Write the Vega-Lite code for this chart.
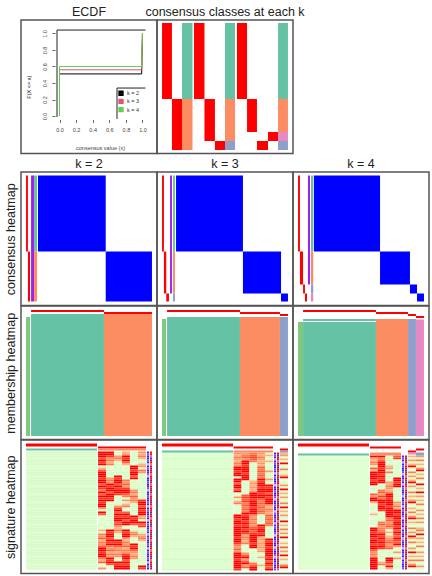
{"$schema":"https://vega.github.io/schema/vega-lite/v6.json","padding":{"left":3,"top":5,"right":0,"bottom":0},"bounds":"flush","spacing":0,"columns":3,"align":"each","config":{"font":"Liberation Sans","view":{"stroke":"#555555","strokeWidth":1.5},"title":{"fontSize":12.5,"fontWeight":"normal","color":"#222222","offset":1.5}},
"datasets":{
"none":[],
"ecdf":[{"k":"k = 2","i":1,"x":0,"y":0},{"k":"k = 2","i":2,"x":0,"y":0.51},{"k":"k = 2","i":3,"x":0.99,"y":0.51},{"k":"k = 2","i":4,"x":1,"y":1},{"k":"k = 3","i":1,"x":0,"y":0},{"k":"k = 3","i":2,"x":0,"y":0.56},{"k":"k = 3","i":3,"x":0.99,"y":0.56},{"k":"k = 3","i":4,"x":1,"y":1},{"k":"k = 4","i":1,"x":0,"y":0},{"k":"k = 4","i":2,"x":0,"y":0.6},{"k":"k = 4","i":3,"x":0.99,"y":0.6},{"k":"k = 4","i":4,"x":1,"y":1}],
"box":[{"x":-0.03,"y":-0.012,"xe":-0.03,"ye":1.042},{"x":-0.03,"y":1.042,"xe":1.036,"ye":1.042},{"x":0.693,"y":-0.036,"xe":0.693,"ye":0.339},{"x":0.693,"y":0.339,"xe":1.036,"ye":0.339}],
"blocks":[
{"panel":"classes","x0":3.7,"x1":11,"from":0,"to":76,"cat":"member"},{"panel":"classes","x0":11,"x1":18.4,"from":76,"to":127,"cat":"member"},{"panel":"classes","x0":18.4,"x1":26.1,"from":0,"to":76,"cat":"group 1"},{"panel":"classes","x0":18.4,"x1":26.1,"from":76,"to":127,"cat":"group 2"},
{"panel":"classes","x0":27.2,"x1":34.9,"from":0,"to":76,"cat":"member"},{"panel":"classes","x0":34.9,"x1":42.6,"from":76,"to":118,"cat":"member"},{"panel":"classes","x0":42.6,"x1":50,"from":118,"to":127,"cat":"member"},{"panel":"classes","x0":50,"x1":57.4,"from":0,"to":76,"cat":"group 1"},{"panel":"classes","x0":50,"x1":57.4,"from":76,"to":118,"cat":"group 2"},{"panel":"classes","x0":50,"x1":57.4,"from":118,"to":127,"cat":"group 3"},
{"panel":"classes","x0":58.8,"x1":66.2,"from":0,"to":76,"cat":"member"},{"panel":"classes","x0":66.2,"x1":73.5,"from":76,"to":109,"cat":"member"},{"panel":"classes","x0":73.5,"x1":81.6,"from":118,"to":127,"cat":"member"},{"panel":"classes","x0":81.6,"x1":89,"from":109,"to":118,"cat":"member"},{"panel":"classes","x0":89,"x1":96.3,"from":0,"to":76,"cat":"group 1"},{"panel":"classes","x0":89,"x1":96.3,"from":76,"to":109,"cat":"group 2"},{"panel":"classes","x0":89,"x1":96.3,"from":109,"to":118,"cat":"group 4"},{"panel":"classes","x0":89,"x1":96.3,"from":118,"to":127,"cat":"group 3"},
{"panel":"c2","x0":3.7,"x1":5.1,"from":0,"to":76,"cat":"member"},{"panel":"c2","x0":5.1,"x1":6.6,"from":76,"to":126,"cat":"member"},{"panel":"c2","x0":7.4,"x1":9.6,"from":0,"to":126,"cat":"silhouette"},{"panel":"c2","x0":9.6,"x1":11.8,"from":0,"to":76,"cat":"group 1"},{"panel":"c2","x0":9.6,"x1":11.8,"from":76,"to":126,"cat":"group 2"},{"panel":"c2","x0":12.5,"x1":62.3,"from":0,"to":76,"cat":"consensus"},{"panel":"c2","x0":62.3,"x1":96.3,"from":76,"to":126,"cat":"consensus"},
{"panel":"c3","x0":3.7,"x1":5.1,"from":0,"to":76,"cat":"member"},{"panel":"c3","x0":5.1,"x1":6.8,"from":76,"to":118,"cat":"member"},{"panel":"c3","x0":6.8,"x1":8.8,"from":118,"to":126,"cat":"member"},{"panel":"c3","x0":9.6,"x1":11,"from":0,"to":118,"cat":"silhouette"},{"panel":"c3","x0":11.8,"x1":13.2,"from":0,"to":76,"cat":"group 1"},{"panel":"c3","x0":11.8,"x1":13.2,"from":76,"to":118,"cat":"group 2"},{"panel":"c3","x0":11.8,"x1":13.2,"from":118,"to":126,"cat":"group 3"},{"panel":"c3","x0":14,"x1":63.2,"from":0,"to":76,"cat":"consensus"},{"panel":"c3","x0":63.2,"x1":91.2,"from":76,"to":118,"cat":"consensus"},{"panel":"c3","x0":91.2,"x1":96.3,"from":118,"to":126,"cat":"consensus"},
{"panel":"c4","x0":3.7,"x1":5.1,"from":0,"to":76,"cat":"member"},{"panel":"c4","x0":5.1,"x1":7.4,"from":76,"to":109,"cat":"member"},{"panel":"c4","x0":7.4,"x1":8.8,"from":109,"to":118,"cat":"member"},{"panel":"c4","x0":8.8,"x1":10.3,"from":118,"to":126,"cat":"member"},{"panel":"c4","x0":11,"x1":12.5,"from":0,"to":109,"cat":"silhouette"},{"panel":"c4","x0":13.2,"x1":14.9,"from":0,"to":76,"cat":"group 1"},{"panel":"c4","x0":13.2,"x1":14.9,"from":76,"to":109,"cat":"group 2"},{"panel":"c4","x0":13.2,"x1":14.9,"from":109,"to":118,"cat":"group 3"},{"panel":"c4","x0":13.2,"x1":14.9,"from":118,"to":126,"cat":"group 4"},{"panel":"c4","x0":15.4,"x1":64,"from":0,"to":76,"cat":"consensus"},{"panel":"c4","x0":64,"x1":86,"from":76,"to":109,"cat":"consensus"},{"panel":"c4","x0":86,"x1":91.2,"from":109,"to":118,"cat":"consensus"},{"panel":"c4","x0":91.2,"x1":96.3,"from":118,"to":126,"cat":"consensus"},
{"panel":"m2","x0":3.7,"x1":6.6,"from":7.5,"to":126.5,"cat":"score"},{"panel":"m2","x0":7.4,"x1":61,"from":0.5,"to":2.5,"cat":"member"},{"panel":"m2","x0":61,"x1":96.3,"from":2.5,"to":4.5,"cat":"member"},{"panel":"m2","x0":7.4,"x1":61,"from":4.5,"to":126.5,"cat":"group 1"},{"panel":"m2","x0":61,"x1":96.3,"from":4.5,"to":126.5,"cat":"group 2"},
{"panel":"m3","x0":3.7,"x1":6.6,"from":9.5,"to":126.5,"cat":"score"},{"panel":"m3","x0":7.4,"x1":61,"from":0.5,"to":2.5,"cat":"member"},{"panel":"m3","x0":61,"x1":90.4,"from":2.5,"to":4.5,"cat":"member"},{"panel":"m3","x0":90.4,"x1":96.3,"from":4.5,"to":6.5,"cat":"member"},{"panel":"m3","x0":7.4,"x1":61,"from":7.5,"to":126.5,"cat":"group 1"},{"panel":"m3","x0":61,"x1":90.4,"from":7.5,"to":126.5,"cat":"group 2"},{"panel":"m3","x0":90.4,"x1":96.3,"from":7.5,"to":126.5,"cat":"group 3"},
{"panel":"m4","x0":3.7,"x1":7.4,"from":12.5,"to":126.5,"cat":"score"},{"panel":"m4","x0":7.4,"x1":61,"from":0.5,"to":2.5,"cat":"member"},{"panel":"m4","x0":61,"x1":84.6,"from":2.5,"to":4.5,"cat":"member"},{"panel":"m4","x0":84.6,"x1":90.4,"from":4.5,"to":6.5,"cat":"member"},{"panel":"m4","x0":90.4,"x1":96.3,"from":6.5,"to":8.5,"cat":"member"},{"panel":"m4","x0":7.4,"x1":61,"from":9.5,"to":11.5,"cat":"group 1"},{"panel":"m4","x0":7.4,"x1":61,"from":12.5,"to":126.5,"cat":"group 1"},{"panel":"m4","x0":61,"x1":84.6,"from":9.5,"to":126.5,"cat":"group 2"},{"panel":"m4","x0":84.6,"x1":90.4,"from":9.5,"to":126.5,"cat":"group 3"},{"panel":"m4","x0":90.4,"x1":96.3,"from":10,"to":126.5,"cat":"group 4"}],
"sigHead":[
{"panel":"s2","x0":3.7,"x1":55.9,"r":5.5,"r2":7,"cat":"member"},{"panel":"s2","x0":56.6,"x1":91.9,"r":7,"r2":8,"cat":"member"},{"panel":"s2","x0":3.7,"x1":55.9,"r":8,"r2":9,"cat":"group 1"},{"panel":"s2","x0":56.6,"x1":91.9,"r":8,"r2":9,"cat":"group 2"},
{"panel":"s3","x0":3.7,"x1":55.9,"r":5,"r2":6.5,"cat":"member"},{"panel":"s3","x0":56.3,"x1":85.3,"r":6.5,"r2":7.5,"cat":"member"},{"panel":"s3","x0":90.4,"x1":96.3,"r":7.5,"r2":8.5,"cat":"member"},{"panel":"s3","x0":3.7,"x1":55.9,"r":8.5,"r2":9.5,"cat":"group 1"},{"panel":"s3","x0":56.3,"x1":85.3,"r":8.5,"r2":9.5,"cat":"group 2"},{"panel":"s3","x0":90.4,"x1":96.3,"r":8.5,"r2":9.5,"cat":"group 3"},
{"panel":"s4","x0":3.7,"x1":55.9,"r":3.5,"r2":5,"cat":"member"},{"panel":"s4","x0":56.6,"x1":79.4,"r":5,"r2":6,"cat":"member"},{"panel":"s4","x0":90.4,"x1":96.3,"r":6,"r2":7,"cat":"member"},{"panel":"s4","x0":84.6,"x1":90.4,"r":7,"r2":8,"cat":"member"},{"panel":"s4","x0":3.7,"x1":55.9,"r":8.5,"r2":9.5,"cat":"group 1"},{"panel":"s4","x0":56.6,"x1":79.4,"r":8,"r2":9.5,"cat":"group 2"},{"panel":"s4","x0":84.6,"x1":90.4,"r":8,"r2":9,"cat":"group 4"},{"panel":"s4","x0":90.4,"x1":96.3,"r":8,"r2":9.5,"cat":"group 3"}],
"cols2":[{"key":"g","x0":3.7,"x1":55.9},{"key":"a","x0":56.6,"x1":62.5},{"key":"b","x0":62.5,"x1":68.4},{"key":"c","x0":68.4,"x1":74.3},{"key":"d","x0":74.3,"x1":80.1},{"key":"e","x0":80.1,"x1":86},{"key":"f","x0":86,"x1":91.9},{"key":"p","x0":92.6,"x1":94.1},{"key":"q","x0":94.9,"x1":96.3}],
"cols3":[{"key":"g","x0":3.7,"x1":55.9},{"key":"a","x0":56.3,"x1":62.1},{"key":"b","x0":62.1,"x1":67.9},{"key":"c","x0":67.9,"x1":73.7},{"key":"d","x0":73.7,"x1":79.5},{"key":"e","x0":79.5,"x1":85.3},{"key":"p","x0":86,"x1":87.5},{"key":"q","x0":88.2,"x1":89.7},{"key":"i","x0":90.4,"x1":96.3}],
"cols4":[{"key":"g","x0":3.7,"x1":55.9},{"key":"a","x0":56.6,"x1":62.3},{"key":"b","x0":62.3,"x1":68},{"key":"c","x0":68,"x1":73.7},{"key":"d","x0":73.7,"x1":79.4},{"key":"p","x0":80.1,"x1":81.6},{"key":"q","x0":82.4,"x1":83.8},{"key":"i","x0":84.6,"x1":90.4},{"key":"j","x0":90.4,"x1":96.3}],
"sig2":[
{"r":10,"g":0,"a":9,"b":9,"c":0,"d":4,"e":0,"f":5,"p":"deep","q":"high"},{"r":11,"g":0,"a":9,"b":9,"c":1,"d":5,"e":1,"f":4,"p":"mid","q":"high"},{"r":12,"g":0,"a":9,"b":8,"c":5,"d":9,"e":0,"f":6,"p":"deep","q":"mix"},{"r":13,"g":1,"a":7,"b":5,"c":6,"d":8,"e":2,"f":4,"p":"deep","q":"low"},{"r":14,"g":0,"a":9,"b":6,"c":4,"d":9,"e":0,"f":1,"p":"mid","q":"high"},{"r":15,"g":0,"a":8,"b":4,"c":1,"d":7,"e":1,"f":0,"p":"deep","q":"high"},{"r":16,"g":0,"a":9,"b":6,"c":0,"d":4,"e":2,"f":4,"p":"pale","q":"mix"},{"r":17,"g":1,"a":2,"b":2,"c":2,"d":3,"e":9,"f":5,"p":"deep","q":"high"},{"r":18,"g":1,"a":4,"b":3,"c":0,"d":2,"e":9,"f":3,"p":"mid","q":"low"},{"r":19,"g":0,"a":7,"b":0,"c":1,"d":1,"e":8,"f":6,"p":"deep","q":"high"},
{"r":20,"g":0,"a":9,"b":1,"c":0,"d":0,"e":9,"f":5,"p":"deep","q":"high"},{"r":21,"g":0,"a":9,"b":0,"c":2,"d":2,"e":9,"f":0,"p":"mid","q":"mix"},{"r":22,"g":1,"a":9,"b":2,"c":9,"d":0,"e":7,"f":1,"p":"pale","q":"high"},{"r":23,"g":0,"a":8,"b":5,"c":8,"d":1,"e":9,"f":0,"p":"deep","q":"high"},{"r":24,"g":0,"a":9,"b":6,"c":9,"d":6,"e":1,"f":2,"p":"deep","q":"low"},{"r":25,"g":0,"a":9,"b":5,"c":9,"d":5,"e":0,"f":1,"p":"mid","q":"high"},{"r":26,"g":0,"a":7,"b":9,"c":7,"d":7,"e":2,"f":0,"p":"deep","q":"mix"},{"r":27,"g":1,"a":9,"b":8,"c":9,"d":5,"e":1,"f":2,"p":"deep","q":"high"},{"r":28,"g":0,"a":8,"b":9,"c":8,"d":8,"e":0,"f":0,"p":"mid","q":"high"},{"r":29,"g":0,"a":6,"b":9,"c":9,"d":9,"e":5,"f":1,"p":"pale","q":"low"},
{"r":30,"g":0,"a":9,"b":7,"c":9,"d":9,"e":6,"f":0,"p":"deep","q":"high"},{"r":31,"g":1,"a":7,"b":9,"c":8,"d":7,"e":4,"f":2,"p":"deep","q":"mix"},{"r":32,"g":0,"a":9,"b":9,"c":1,"d":6,"e":7,"f":1,"p":"mid","q":"high"},{"r":33,"g":0,"a":8,"b":8,"c":0,"d":2,"e":5,"f":0,"p":"deep","q":"high"},{"r":34,"g":0,"a":9,"b":9,"c":2,"d":5,"e":6,"f":8,"p":"deep","q":"low"},{"r":35,"g":1,"a":8,"b":1,"c":1,"d":3,"e":4,"f":9,"p":"mid","q":"high"},{"r":36,"g":0,"a":9,"b":0,"c":0,"d":4,"e":1,"f":9,"p":"deep","q":"high"},{"r":37,"g":0,"a":9,"b":2,"c":5,"d":6,"e":0,"f":7,"p":"pale","q":"mix"},{"r":38,"g":1,"a":5,"b":1,"c":8,"d":2,"e":2,"f":9,"p":"deep","q":"high"},{"r":39,"g":0,"a":2,"b":0,"c":9,"d":3,"e":0,"f":8,"p":"mid","q":"high"},
{"r":40,"g":0,"a":9,"b":3,"c":7,"d":7,"e":1,"f":9,"p":"deep","q":"low"},{"r":41,"g":0,"a":7,"b":1,"c":9,"d":9,"e":2,"f":9,"p":"deep","q":"high"},{"r":42,"g":1,"a":2,"b":0,"c":8,"d":8,"e":9,"f":4,"p":"mid","q":"high"},{"r":43,"g":0,"a":1,"b":2,"c":9,"d":9,"e":8,"f":5,"p":"deep","q":"mix"},{"r":44,"g":0,"a":3,"b":0,"c":9,"d":7,"e":9,"f":3,"p":"pale","q":"high"},{"r":45,"g":0,"a":2,"b":1,"c":7,"d":9,"e":9,"f":9,"p":"deep","q":"high"},{"r":46,"g":1,"a":0,"b":3,"c":8,"d":9,"e":7,"f":7,"p":"mid","q":"low"},{"r":47,"g":0,"a":1,"b":0,"c":5,"d":1,"e":2,"f":8,"p":"deep","q":"high"},{"r":48,"g":0,"a":2,"b":2,"c":4,"d":2,"e":1,"f":2,"p":"deep","q":"mix"},{"r":49,"g":0,"a":4,"b":9,"c":6,"d":9,"e":0,"f":1,"p":"mid","q":"high"},
{"r":50,"g":1,"a":1,"b":8,"c":4,"d":8,"e":5,"f":0,"p":"deep","q":"high"},{"r":51,"g":0,"a":6,"b":9,"c":1,"d":9,"e":6,"f":4,"p":"pale","q":"low"},{"r":52,"g":0,"a":5,"b":9,"c":0,"d":9,"e":4,"f":5,"p":"deep","q":"high"},{"r":53,"g":0,"a":7,"b":7,"c":2,"d":5,"e":2,"f":6,"p":"mid","q":"high"},{"r":54,"g":1,"a":4,"b":9,"c":9,"d":4,"e":1,"f":4,"p":"deep","q":"mix"},{"r":55,"g":0,"a":6,"b":8,"c":8,"d":6,"e":3,"f":3,"p":"deep","q":"high"},{"r":56,"g":0,"a":5,"b":9,"c":9,"d":5,"e":9,"f":1,"p":"mid","q":"low"},{"r":57,"g":0,"a":7,"b":6,"c":7,"d":7,"e":8,"f":0,"p":"deep","q":"high"},{"r":58,"g":1,"a":9,"b":5,"c":5,"d":4,"e":9,"f":2,"p":"pale","q":"high"},{"r":59,"g":0,"a":9,"b":7,"c":6,"d":6,"e":7,"f":0,"p":"deep","q":"mix"},
{"r":60,"g":0,"a":8,"b":4,"c":4,"d":5,"e":5,"f":1,"p":"mid","q":"high"},{"r":61,"g":0,"a":9,"b":6,"c":6,"d":8,"e":4,"f":0,"p":"deep","q":"high"},{"r":62,"g":1,"a":9,"b":5,"c":5,"d":9,"e":6,"f":2,"p":"deep","q":"low"},{"r":63,"g":0,"a":6,"b":9,"c":2,"d":9,"e":5,"f":1,"p":"mid","q":"high"},{"r":64,"g":0,"a":4,"b":8,"c":1,"d":7,"e":1,"f":0,"p":"deep","q":"mix"},{"r":65,"g":0,"a":7,"b":9,"c":9,"d":9,"e":0,"f":1,"p":"pale","q":"high"},{"r":66,"g":1,"a":3,"b":7,"c":8,"d":8,"e":2,"f":2,"p":"deep","q":"high"},{"r":67,"g":0,"a":2,"b":3,"c":9,"d":9,"e":0,"f":9,"p":"mid","q":"low"},{"r":68,"g":0,"a":5,"b":2,"c":9,"d":9,"e":1,"f":8,"p":"deep","q":"high"}],
"sig3":[
{"r":10,"g":1,"a":5,"b":5,"c":6,"d":5,"e":3,"p":"deep","q":"high","i":4},{"r":11,"g":1,"a":4,"b":6,"c":7,"d":4,"e":4,"p":"mid","q":"low","i":5},{"r":12,"g":1,"a":6,"b":7,"c":8,"d":6,"e":2,"p":"deep","q":"high","i":3},{"r":13,"g":0,"a":5,"b":5,"c":7,"d":5,"e":3,"p":"pale","q":"high","i":4},{"r":14,"g":1,"a":4,"b":9,"c":6,"d":4,"e":4,"p":"deep","q":"mix","i":1},{"r":15,"g":1,"a":6,"b":9,"c":2,"d":5,"e":2,"p":"mid","q":"high","i":9},{"r":16,"g":1,"a":5,"b":8,"c":1,"d":4,"e":3,"p":"deep","q":"high","i":2},{"r":17,"g":1,"a":9,"b":9,"c":1,"d":7,"e":1,"p":"deep","q":"low","i":1},{"r":18,"g":0,"a":9,"b":9,"c":2,"d":6,"e":0,"p":"mid","q":"high","i":6},{"r":19,"g":1,"a":8,"b":9,"c":0,"d":7,"e":5,"p":"deep","q":"high","i":2},
{"r":20,"g":1,"a":9,"b":8,"c":1,"d":6,"e":1,"p":"pale","q":"mix","i":0},{"r":21,"g":1,"a":9,"b":9,"c":2,"d":7,"e":0,"p":"deep","q":"high","i":4},{"r":22,"g":1,"a":3,"b":9,"c":1,"d":6,"e":1,"p":"mid","q":"high","i":9},{"r":23,"g":0,"a":9,"b":9,"c":0,"d":9,"e":5,"p":"deep","q":"low","i":1},{"r":24,"g":1,"a":9,"b":1,"c":4,"d":8,"e":0,"p":"deep","q":"high","i":3},{"r":25,"g":1,"a":7,"b":2,"c":5,"d":9,"e":1,"p":"mid","q":"high","i":1},{"r":26,"g":1,"a":9,"b":1,"c":4,"d":9,"e":9,"p":"pale","q":"mix","i":5},{"r":27,"g":1,"a":9,"b":2,"c":5,"d":8,"e":8,"p":"deep","q":"high","i":2},{"r":28,"g":0,"a":7,"b":1,"c":4,"d":9,"e":9,"p":"deep","q":"high","i":9},{"r":29,"g":1,"a":9,"b":2,"c":5,"d":9,"e":9,"p":"mid","q":"low","i":0},
{"r":30,"g":1,"a":2,"b":1,"c":9,"d":8,"e":7,"p":"deep","q":"high","i":4},{"r":31,"g":1,"a":1,"b":7,"c":9,"d":9,"e":9,"p":"deep","q":"high","i":1},{"r":32,"g":1,"a":5,"b":8,"c":9,"d":9,"e":8,"p":"mid","q":"mix","i":5},{"r":33,"g":0,"a":3,"b":7,"c":8,"d":7,"e":9,"p":"pale","q":"high","i":3},{"r":34,"g":1,"a":4,"b":8,"c":9,"d":6,"e":9,"p":"deep","q":"high","i":0},{"r":35,"g":1,"a":6,"b":6,"c":9,"d":7,"e":9,"p":"deep","q":"low","i":6},{"r":36,"g":1,"a":2,"b":7,"c":9,"d":6,"e":5,"p":"mid","q":"high","i":2},{"r":37,"g":1,"a":3,"b":6,"c":8,"d":7,"e":4,"p":"deep","q":"high","i":9},{"r":38,"g":0,"a":1,"b":7,"c":9,"d":6,"e":6,"p":"deep","q":"mix","i":1},{"r":39,"g":1,"a":2,"b":6,"c":9,"d":7,"e":5,"p":"pale","q":"high","i":4},
{"r":40,"g":1,"a":1,"b":9,"c":9,"d":6,"e":4,"p":"mid","q":"high","i":2},{"r":41,"g":1,"a":9,"b":8,"c":6,"d":1,"e":7,"p":"deep","q":"low","i":5},{"r":42,"g":1,"a":9,"b":9,"c":5,"d":3,"e":6,"p":"deep","q":"high","i":0},{"r":43,"g":0,"a":8,"b":9,"c":6,"d":1,"e":7,"p":"mid","q":"high","i":3},{"r":44,"g":1,"a":9,"b":8,"c":5,"d":2,"e":6,"p":"deep","q":"mix","i":9},{"r":45,"g":1,"a":9,"b":9,"c":6,"d":3,"e":7,"p":"pale","q":"high","i":1},{"r":46,"g":1,"a":8,"b":8,"c":5,"d":9,"e":6,"p":"deep","q":"high","i":4},{"r":47,"g":1,"a":9,"b":9,"c":7,"d":8,"e":1,"p":"mid","q":"low","i":2},{"r":48,"g":0,"a":9,"b":8,"c":8,"d":9,"e":2,"p":"deep","q":"high","i":6},{"r":49,"g":1,"a":9,"b":9,"c":7,"d":9,"e":1,"p":"deep","q":"high","i":0},
{"r":50,"g":1,"a":9,"b":8,"c":8,"d":8,"e":2,"p":"mid","q":"mix","i":5},{"r":51,"g":1,"a":9,"b":4,"c":9,"d":9,"e":1,"p":"pale","q":"high","i":1},{"r":52,"g":1,"a":8,"b":6,"c":9,"d":4,"e":2,"p":"deep","q":"high","i":9},{"r":53,"g":0,"a":9,"b":5,"c":9,"d":5,"e":9,"p":"deep","q":"low","i":3},{"r":54,"g":1,"a":9,"b":4,"c":9,"d":4,"e":8,"p":"mid","q":"high","i":2},{"r":55,"g":1,"a":8,"b":6,"c":8,"d":5,"e":9,"p":"deep","q":"high","i":4},{"r":56,"g":1,"a":6,"b":1,"c":9,"d":4,"e":9,"p":"deep","q":"mix","i":1},{"r":57,"g":1,"a":5,"b":2,"c":9,"d":5,"e":8,"p":"pale","q":"high","i":7},{"r":58,"g":0,"a":7,"b":1,"c":1,"d":4,"e":9,"p":"mid","q":"high","i":0},{"r":59,"g":1,"a":5,"b":2,"c":2,"d":5,"e":9,"p":"deep","q":"low","i":5},
{"r":60,"g":1,"a":9,"b":5,"c":1,"d":1,"e":9,"p":"deep","q":"high","i":2},{"r":61,"g":1,"a":9,"b":7,"c":2,"d":2,"e":9,"p":"mid","q":"high","i":9},{"r":62,"g":1,"a":9,"b":9,"c":1,"d":4,"e":8,"p":"pale","q":"mix","i":1},{"r":63,"g":0,"a":8,"b":5,"c":2,"d":2,"e":9,"p":"deep","q":"high","i":4},{"r":64,"g":1,"a":9,"b":7,"c":1,"d":1,"e":7,"p":"deep","q":"high","i":3},{"r":65,"g":1,"a":9,"b":9,"c":6,"d":2,"e":9,"p":"mid","q":"low","i":0},{"r":66,"g":1,"a":9,"b":5,"c":7,"d":4,"e":8,"p":"deep","q":"high","i":6},{"r":67,"g":1,"a":9,"b":7,"c":9,"d":1,"e":7,"p":"deep","q":"high","i":9},{"r":68,"g":0,"a":8,"b":3,"c":9,"d":2,"e":9,"p":"mid","q":"mix","i":1}],
"sig4":[
{"r":10,"g":1,"a":9,"b":9,"c":0,"d":7,"p":"deep","q":"high","i":4,"j":5},{"r":11,"g":1,"a":5,"b":6,"c":1,"d":8,"p":"mid","q":"low","i":1,"j":3},{"r":12,"g":2,"a":4,"b":7,"c":0,"d":2,"p":"deep","q":"high","i":5,"j":6},{"r":13,"g":1,"a":6,"b":9,"c":1,"d":3,"p":"pale","q":"high","i":2,"j":1},{"r":14,"g":1,"a":5,"b":9,"c":0,"d":1,"p":"deep","q":"mix","i":4,"j":4},{"r":15,"g":1,"a":3,"b":9,"c":4,"d":0,"p":"mid","q":"high","i":9,"j":2},{"r":16,"g":2,"a":7,"b":8,"c":5,"d":2,"p":"deep","q":"high","i":1,"j":5},{"r":17,"g":1,"a":4,"b":9,"c":3,"d":2,"p":"deep","q":"low","i":3,"j":9},{"r":18,"g":1,"a":9,"b":9,"c":6,"d":1,"p":"mid","q":"high","i":6,"j":1},{"r":19,"g":1,"a":9,"b":8,"c":1,"d":2,"p":"pale","q":"high","i":2,"j":4},
{"r":20,"g":2,"a":9,"b":9,"c":0,"d":1,"p":"deep","q":"mix","i":5,"j":2},{"r":21,"g":1,"a":9,"b":8,"c":2,"d":9,"p":"deep","q":"high","i":1,"j":6},{"r":22,"g":1,"a":8,"b":9,"c":1,"d":9,"p":"mid","q":"high","i":4,"j":1},{"r":23,"g":1,"a":9,"b":9,"c":5,"d":8,"p":"deep","q":"low","i":9,"j":3},{"r":24,"g":2,"a":9,"b":1,"c":4,"d":9,"p":"pale","q":"high","i":2,"j":9},{"r":25,"g":1,"a":1,"b":0,"c":6,"d":9,"p":"deep","q":"high","i":5,"j":1},{"r":26,"g":1,"a":0,"b":1,"c":5,"d":1,"p":"mid","q":"mix","i":1,"j":4},{"r":27,"g":1,"a":2,"b":6,"c":4,"d":0,"p":"deep","q":"high","i":3,"j":2},{"r":28,"g":2,"a":3,"b":7,"c":6,"d":2,"p":"deep","q":"high","i":6,"j":9},{"r":29,"g":1,"a":7,"b":5,"c":9,"d":1,"p":"mid","q":"low","i":1,"j":1},
{"r":30,"g":1,"a":5,"b":8,"c":9,"d":0,"p":"pale","q":"high","i":4,"j":5},{"r":31,"g":1,"a":9,"b":6,"c":8,"d":2,"p":"deep","q":"high","i":2,"j":2},{"r":32,"g":2,"a":9,"b":9,"c":9,"d":1,"p":"deep","q":"mix","i":5,"j":4},{"r":33,"g":1,"a":4,"b":9,"c":9,"d":5,"p":"mid","q":"high","i":9,"j":1},{"r":34,"g":1,"a":2,"b":8,"c":9,"d":4,"p":"deep","q":"high","i":1,"j":6},{"r":35,"g":1,"a":3,"b":9,"c":8,"d":6,"p":"pale","q":"low","i":3,"j":3},{"r":36,"g":2,"a":2,"b":9,"c":9,"d":4,"p":"deep","q":"high","i":4,"j":2},{"r":37,"g":1,"a":3,"b":8,"c":9,"d":9,"p":"mid","q":"high","i":2,"j":5},{"r":38,"g":1,"a":1,"b":3,"c":9,"d":9,"p":"deep","q":"mix","i":6,"j":1},{"r":39,"g":1,"a":4,"b":1,"c":9,"d":8,"p":"deep","q":"high","i":1,"j":4},
{"r":40,"g":2,"a":2,"b":2,"c":9,"d":9,"p":"mid","q":"high","i":5,"j":2},{"r":41,"g":1,"a":1,"b":1,"c":6,"d":9,"p":"pale","q":"low","i":9,"j":6},{"r":42,"g":1,"a":0,"b":0,"c":7,"d":8,"p":"deep","q":"high","i":2,"j":1},{"r":43,"g":1,"a":2,"b":6,"c":5,"d":9,"p":"deep","q":"high","i":4,"j":5},{"r":44,"g":2,"a":1,"b":7,"c":6,"d":9,"p":"mid","q":"mix","i":1,"j":3},{"r":45,"g":1,"a":3,"b":5,"c":7,"d":8,"p":"deep","q":"high","i":3,"j":1},{"r":46,"g":1,"a":9,"b":6,"c":5,"d":9,"p":"pale","q":"high","i":6,"j":4},{"r":47,"g":1,"a":9,"b":6,"c":3,"d":7,"p":"deep","q":"low","i":2,"j":6},{"r":48,"g":2,"a":8,"b":7,"c":4,"d":9,"p":"mid","q":"high","i":5,"j":2},{"r":49,"g":1,"a":9,"b":9,"c":3,"d":8,"p":"deep","q":"high","i":1,"j":9},
{"r":50,"g":1,"a":9,"b":8,"c":4,"d":7,"p":"deep","q":"mix","i":9,"j":1},{"r":51,"g":1,"a":8,"b":9,"c":5,"d":9,"p":"pale","q":"high","i":4,"j":5},{"r":52,"g":2,"a":9,"b":8,"c":6,"d":8,"p":"mid","q":"high","i":2,"j":2},{"r":53,"g":1,"a":9,"b":9,"c":7,"d":7,"p":"deep","q":"low","i":6,"j":4},{"r":54,"g":1,"a":8,"b":8,"c":5,"d":9,"p":"deep","q":"high","i":1,"j":1},{"r":55,"g":1,"a":9,"b":9,"c":6,"d":5,"p":"mid","q":"high","i":3,"j":6},{"r":56,"g":2,"a":9,"b":8,"c":7,"d":3,"p":"pale","q":"mix","i":5,"j":3},{"r":57,"g":1,"a":7,"b":0,"c":1,"d":2,"p":"deep","q":"high","i":2,"j":1},{"r":58,"g":1,"a":5,"b":1,"c":0,"d":5,"p":"deep","q":"high","i":9,"j":5},{"r":59,"g":1,"a":6,"b":2,"c":1,"d":3,"p":"mid","q":"low","i":1,"j":2},
{"r":60,"g":2,"a":5,"b":0,"c":2,"d":2,"p":"deep","q":"high","i":4,"j":4},{"r":61,"g":1,"a":9,"b":1,"c":9,"d":5,"p":"pale","q":"high","i":2,"j":1},{"r":62,"g":1,"a":9,"b":3,"c":9,"d":3,"p":"deep","q":"mix","i":6,"j":6},{"r":63,"g":1,"a":9,"b":4,"c":8,"d":3,"p":"mid","q":"high","i":1,"j":3},{"r":64,"g":2,"a":9,"b":6,"c":5,"d":1,"p":"deep","q":"high","i":5,"j":2},{"r":65,"g":1,"a":9,"b":3,"c":9,"d":0,"p":"deep","q":"low","i":9,"j":5},{"r":66,"g":1,"a":9,"b":1,"c":4,"d":1,"p":"mid","q":"high","i":2,"j":1}]
},
"concat":[
{"width":136,"height":133.5,"title":"ECDF","encoding":{"x":{"field":"x","type":"quantitative","scale":{"domain":[-0.464,1.175]},"axis":{"values":[0,0.2,0.4,0.6,0.8,1],"format":".1f","offset":-34,"domain":false,"grid":false,"labelOverlap":false,"labelFlush":false,"labelFontSize":5.5,"labelColor":"#444444","tickColor":"#666666","tickSize":3,"labelPadding":5,"title":"consensus value (x)","titleFontSize":5.5,"titleFontWeight":"normal","titleColor":"#444444","titleX":79,"titleY":26}},"y":{"field":"y","type":"quantitative","scale":{"domain":[-0.4545,1.1636]},"axis":{"values":[0,0.2,0.4,0.6,0.8,1],"format":".1f","offset":-34,"domain":false,"grid":false,"labelOverlap":false,"labelFlush":false,"labelAngle":270,"labelAlign":"center","labelBaseline":"bottom","labelFontSize":5.5,"labelColor":"#444444","tickColor":"#666666","tickSize":3,"labelPadding":5,"title":"F(X <= x)","titleFontSize":5.5,"titleFontWeight":"normal","titleColor":"#222222","titleX":-24}}},"layer":[
{"data":{"name":"box"},"mark":{"type":"rule","color":"#222222","strokeWidth":1},"encoding":{"x2":{"field":"xe"},"y2":{"field":"ye"}}},
{"data":{"name":"ecdf"},"mark":{"type":"line","strokeWidth":1},"encoding":{"order":{"field":"i"},"stroke":{"field":"k","type":"nominal","scale":{"domain":["k = 2","k = 3","k = 4"],"range":["#000000","#DF536B","#61D04F"]},"legend":{"title":null,"orient":"none","legendX":95,"legendY":68,"symbolType":"square","symbolSize":8,"symbolStrokeWidth":2.5,"labelFontSize":5.5,"labelColor":"#333333","rowPadding":1.2,"clipHeight":6.5,"labelOffset":3,"padding":2}}}}]},
{"width":136,"height":133.5,"title":{"text":"consensus classes at each k"},"data":{"name":"blocks"},"transform":[{"filter":"datum.panel=='classes'"}],"mark":{"type":"rect","strokeWidth":0},"encoding":{"x":{"field":"x0","type":"quantitative","scale":{"domain":[0,100]},"axis":null},"x2":{"field":"x1"},"y":{"field":"from","type":"quantitative","scale":{"domain":[-3,130.5],"reverse":true},"axis":null},"y2":{"field":"to"},"color":{"field":"cat","type":"nominal","legend":null,"scale":{"domain":["member","silhouette","group 1","group 2","group 3","group 4","consensus","score","deep","mid","pale","high","mix","low"],"range":["#FF0000","#A020F0","#66C2A5","#FC8D62","#8DA0CB","#E78AC3","#0000FF","#7FC97F","#3A22F0","#8A50F0","#CDB0F5","#FF0000","#E060B0","#3030F0"]}}}},
{"width":136,"height":133.5,"view":{"stroke":null},"data":{"name":"none"},"mark":{"type":"rect"},"encoding":{}},
{"width":136,"height":18,"view":{"stroke":null},"data":{"name":"none"},"mark":{"type":"rect"},"encoding":{}},
{"width":136,"height":18,"view":{"stroke":null},"data":{"name":"none"},"mark":{"type":"rect"},"encoding":{}},
{"width":136,"height":18,"view":{"stroke":null},"data":{"name":"none"},"mark":{"type":"rect"},"encoding":{}},
{"width":136,"height":133.5,"title":"k = 2","data":{"name":"blocks"},"transform":[{"filter":"datum.panel=='c2'"}],"mark":{"type":"rect","strokeWidth":0},"encoding":{"x":{"field":"x0","type":"quantitative","scale":{"domain":[0,100]},"axis":null},"x2":{"field":"x1"},"y":{"field":"from","type":"quantitative","scale":{"domain":[-3.5,130],"reverse":true},"axis":{"title":"consensus heatmap","labels":false,"ticks":false,"domain":false,"grid":false,"titleFontSize":12.5,"titleFontWeight":"normal","titleColor":"#222222","titlePadding":3.5}},"y2":{"field":"to"},"color":{"field":"cat","type":"nominal","legend":null}}},
{"width":136,"height":133.5,"title":"k = 3","data":{"name":"blocks"},"transform":[{"filter":"datum.panel=='c3'"}],"mark":{"type":"rect","strokeWidth":0},"encoding":{"x":{"field":"x0","type":"quantitative","scale":{"domain":[0,100]},"axis":null},"x2":{"field":"x1"},"y":{"field":"from","type":"quantitative","scale":{"domain":[-3.5,130],"reverse":true},"axis":null},"y2":{"field":"to"},"color":{"field":"cat","type":"nominal","legend":null}}},
{"width":136,"height":133.5,"title":"k = 4","data":{"name":"blocks"},"transform":[{"filter":"datum.panel=='c4'"}],"mark":{"type":"rect","strokeWidth":0},"encoding":{"x":{"field":"x0","type":"quantitative","scale":{"domain":[0,100]},"axis":null},"x2":{"field":"x1"},"y":{"field":"from","type":"quantitative","scale":{"domain":[-3.5,130],"reverse":true},"axis":null},"y2":{"field":"to"},"color":{"field":"cat","type":"nominal","legend":null}}},
{"width":136,"height":133.5,"data":{"name":"blocks"},"transform":[{"filter":"datum.panel=='m2'"}],"mark":{"type":"rect","strokeWidth":0},"encoding":{"x":{"field":"x0","type":"quantitative","scale":{"domain":[0,100]},"axis":null},"x2":{"field":"x1"},"y":{"field":"from","type":"quantitative","scale":{"domain":[-3.5,130],"reverse":true},"axis":{"title":"membership heatmap","labels":false,"ticks":false,"domain":false,"grid":false,"titleFontSize":12.5,"titleFontWeight":"normal","titleColor":"#222222","titlePadding":3.5}},"y2":{"field":"to"},"color":{"field":"cat","type":"nominal","legend":null}}},
{"width":136,"height":133.5,"data":{"name":"blocks"},"transform":[{"filter":"datum.panel=='m3'"}],"mark":{"type":"rect","strokeWidth":0},"encoding":{"x":{"field":"x0","type":"quantitative","scale":{"domain":[0,100]},"axis":null},"x2":{"field":"x1"},"y":{"field":"from","type":"quantitative","scale":{"domain":[-3.5,130],"reverse":true},"axis":null},"y2":{"field":"to"},"color":{"field":"cat","type":"nominal","legend":null}}},
{"width":136,"height":133.5,"data":{"name":"blocks"},"transform":[{"filter":"datum.panel=='m4'"}],"mark":{"type":"rect","strokeWidth":0},"encoding":{"x":{"field":"x0","type":"quantitative","scale":{"domain":[0,100]},"axis":null},"x2":{"field":"x1"},"y":{"field":"from","type":"quantitative","scale":{"domain":[-3.5,130],"reverse":true},"axis":null},"y2":{"field":"to"},"color":{"field":"cat","type":"nominal","legend":null}}},
{"width":136,"height":133.5,"encoding":{"x":{"field":"x0","type":"quantitative","scale":{"domain":[0,100]},"axis":null},"x2":{"field":"x1"},"y":{"field":"r","type":"quantitative","scale":{"domain":[3.75,70.5],"reverse":true},"axis":{"title":"signature heatmap","labels":false,"ticks":false,"domain":false,"grid":false,"titleFontSize":12.5,"titleFontWeight":"normal","titleColor":"#222222","titlePadding":3.5}}},"layer":[
{"data":{"name":"sig2"},"transform":[{"fold":["g","a","b","c","d","e","f"],"as":["key","v"]},{"lookup":"key","from":{"data":{"name":"cols2"},"key":"key","fields":["x0","x1"]}}],"mark":{"type":"rect","height":2,"strokeWidth":0},"encoding":{"fill":{"field":"v","type":"quantitative","legend":null,"scale":{"domain":[0,4,9],"range":["#D6FBC6","#FFFFFF","#FF0000"]}}}},
{"data":{"name":"sig2"},"transform":[{"fold":["p","q"],"as":["key","c"]},{"lookup":"key","from":{"data":{"name":"cols2"},"key":"key","fields":["x0","x1"]}}],"mark":{"type":"rect","height":2,"strokeWidth":0},"encoding":{"color":{"field":"c","type":"nominal","legend":null}}},
{"data":{"name":"sigHead"},"transform":[{"filter":"datum.panel=='s2'"}],"mark":{"type":"rect","strokeWidth":0},"encoding":{"y2":{"field":"r2"},"color":{"field":"cat","type":"nominal","legend":null}}}]},
{"width":136,"height":133.5,"encoding":{"x":{"field":"x0","type":"quantitative","scale":{"domain":[0,100]},"axis":null},"x2":{"field":"x1"},"y":{"field":"r","type":"quantitative","scale":{"domain":[3.25,70],"reverse":true},"axis":null}},"layer":[
{"data":{"name":"sig3"},"transform":[{"fold":["g","a","b","c","d","e","i"],"as":["key","v"]},{"lookup":"key","from":{"data":{"name":"cols3"},"key":"key","fields":["x0","x1"]}}],"mark":{"type":"rect","height":2,"strokeWidth":0},"encoding":{"fill":{"field":"v","type":"quantitative","legend":null}}},
{"data":{"name":"sig3"},"transform":[{"fold":["p","q"],"as":["key","c"]},{"lookup":"key","from":{"data":{"name":"cols3"},"key":"key","fields":["x0","x1"]}}],"mark":{"type":"rect","height":2,"strokeWidth":0},"encoding":{"color":{"field":"c","type":"nominal","legend":null}}},
{"data":{"name":"sigHead"},"transform":[{"filter":"datum.panel=='s3'"}],"mark":{"type":"rect","strokeWidth":0},"encoding":{"y2":{"field":"r2"},"color":{"field":"cat","type":"nominal","legend":null}}}]},
{"width":136,"height":133.5,"encoding":{"x":{"field":"x0","type":"quantitative","scale":{"domain":[0,100]},"axis":null},"x2":{"field":"x1"},"y":{"field":"r","type":"quantitative","scale":{"domain":[1.75,68.5],"reverse":true},"axis":null}},"layer":[
{"data":{"name":"sig4"},"transform":[{"fold":["g","a","b","c","d","i","j"],"as":["key","v"]},{"lookup":"key","from":{"data":{"name":"cols4"},"key":"key","fields":["x0","x1"]}}],"mark":{"type":"rect","height":2,"strokeWidth":0},"encoding":{"fill":{"field":"v","type":"quantitative","legend":null}}},
{"data":{"name":"sig4"},"transform":[{"fold":["p","q"],"as":["key","c"]},{"lookup":"key","from":{"data":{"name":"cols4"},"key":"key","fields":["x0","x1"]}}],"mark":{"type":"rect","height":2,"strokeWidth":0},"encoding":{"color":{"field":"c","type":"nominal","legend":null}}},
{"data":{"name":"sigHead"},"transform":[{"filter":"datum.panel=='s4'"}],"mark":{"type":"rect","strokeWidth":0},"encoding":{"y2":{"field":"r2"},"color":{"field":"cat","type":"nominal","legend":null}}}]}
]}
